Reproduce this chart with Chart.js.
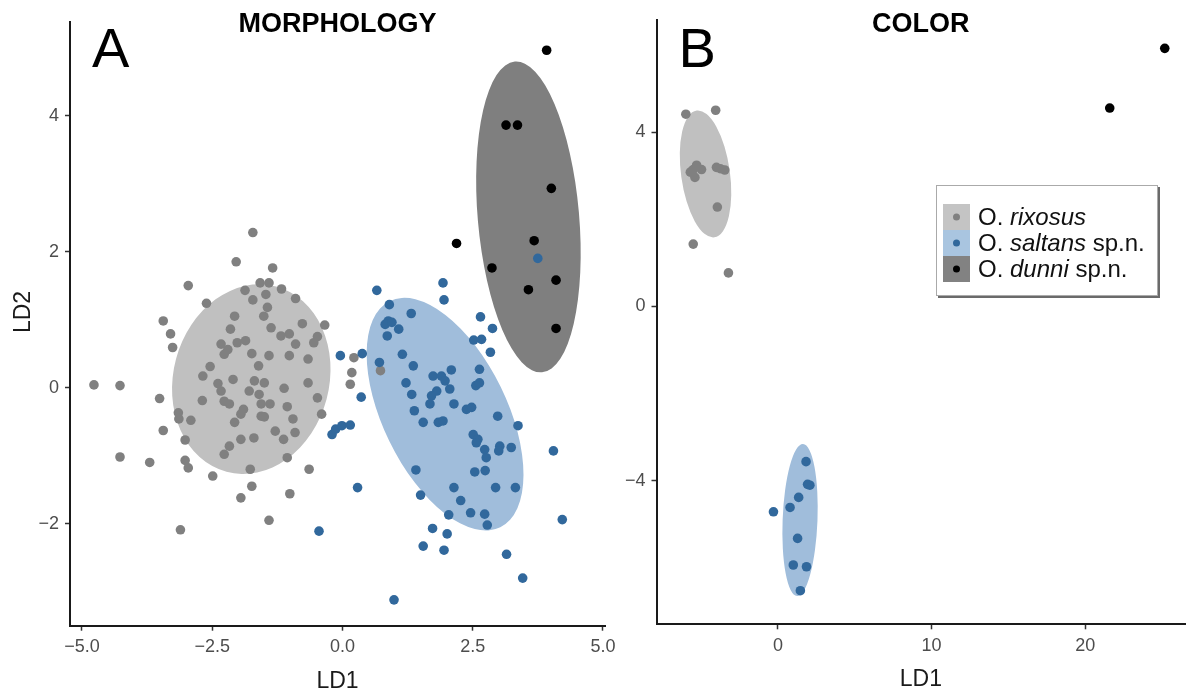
<!DOCTYPE html>
<html>
<head>
<meta charset="utf-8">
<script src="https://cdn.jsdelivr.net/npm/chart.js@4.4.0/dist/chart.umd.min.js"></script>
<style>
  html, body { margin: 0; padding: 0; background: #fff; }
  #wrap { position: relative; width: 1190px; height: 698px; overflow: hidden; }
  canvas { position: absolute; top: 0; }
  #morph { left: 0; }
  #color { left: 600px; }
</style>
</head>
<body>
<div id="wrap">
  <canvas id="morph" width="640" height="698"></canvas>
  <canvas id="color" width="590" height="698"></canvas>
</div>
<script>
// LD scores, [LD1, LD2]
const morphRixosus = [
  [-1.72,2.28],[-2.04,1.85],[-1.34,1.76],[-2.96,1.50],[-2.61,1.24],[-1.58,1.54],[-1.41,1.54],
  [-1.87,1.43],[-1.17,1.45],[-0.90,1.31],[-1.72,1.29],[-1.47,1.37],[-1.44,1.18],[-1.51,1.05],
  [-2.07,1.05],[-3.44,0.98],[-3.30,0.79],[-3.26,0.59],[-2.15,0.86],[-0.77,0.94],[-0.34,0.92],
  [-1.37,0.88],[-1.18,0.76],[-1.02,0.79],[-0.48,0.75],[-0.55,0.66],[-0.90,0.64],[-2.33,0.64],
  [-2.20,0.56],[-2.02,0.66],[-1.86,0.69],[-2.27,0.49],[-1.74,0.50],[-1.41,0.47],[-1.02,0.47],
  [-0.66,0.42],[-1.61,0.32],[-2.54,0.31],[-2.68,0.17],[-2.39,0.06],[-2.10,0.12],[-2.33,-0.05],
  [-1.69,0.10],[-1.50,0.07],[-1.79,-0.05],[-1.60,-0.10],[-1.12,-0.01],[-0.66,0.07],[-4.77,0.04],
  [-4.27,0.03],[-3.51,-0.16],[-2.69,-0.19],[-2.27,-0.20],[-2.17,-0.24],[-1.56,-0.24],[-1.39,-0.24],
  [-1.06,-0.28],[-0.48,-0.15],[-0.40,-0.39],[-1.90,-0.32],[-1.95,-0.39],[-2.07,-0.51],[-1.56,-0.42],
  [-1.50,-0.43],[-3.15,-0.37],[-3.14,-0.46],[-2.91,-0.48],[-0.95,-0.46],[-3.44,-0.63],[-1.29,-0.64],
  [-0.91,-0.66],[-1.13,-0.76],[-1.95,-0.76],[-1.70,-0.74],[-3.02,-0.77],[-2.17,-0.86],[-2.27,-0.98],
  [-1.06,-1.03],[-4.27,-1.02],[-3.70,-1.10],[-3.02,-1.07],[-2.96,-1.18],[-2.49,-1.30],[-1.77,-1.20],
  [-0.64,-1.20],[-1.74,-1.45],[-1.95,-1.62],[-1.01,-1.56],[-1.41,-1.95],[-3.11,-2.09],[0.22,0.44],
  [0.18,0.22],[0.15,0.05],[0.73,0.25]
];
const morphSaltans = [
  [0.66,1.43],[1.93,1.54],[1.95,1.29],[0.90,1.22],[1.32,1.09],[0.88,0.98],[0.82,0.93],[0.95,0.96],
  [1.08,0.86],[0.86,0.76],[2.65,1.04],[2.88,0.87],[2.52,0.70],[2.67,0.71],[2.84,0.52],[-0.04,0.47],
  [0.38,0.50],[0.71,0.37],[1.15,0.49],[1.36,0.32],[0.36,-0.14],[1.22,0.07],[1.33,-0.10],[1.74,0.17],
  [1.90,0.17],[1.97,0.10],[2.09,0.26],[1.81,-0.05],[1.71,-0.12],[1.68,-0.24],[2.06,-0.02],[2.14,-0.24],
  [2.38,-0.32],[2.48,-0.29],[2.63,0.27],[2.56,0.03],[2.63,0.07],[1.38,-0.34],[1.55,-0.51],[1.84,-0.51],
  [1.93,-0.49],[2.98,-0.42],[3.37,-0.56],[-0.20,-0.69],[-0.13,-0.61],[-0.01,-0.56],[0.15,-0.55],
  [2.51,-0.69],[2.60,-0.76],[2.57,-0.81],[2.73,-0.91],[2.76,-1.03],[3.02,-0.86],[3.24,-0.88],
  [3.00,-0.93],[4.05,-0.93],[2.54,-1.24],[2.74,-1.22],[1.41,-1.21],[0.29,-1.47],[1.50,-1.58],
  [2.14,-1.47],[2.94,-1.47],[3.32,-1.47],[2.27,-1.66],[2.04,-1.87],[2.46,-1.84],[2.73,-1.86],
  [2.78,-2.02],[4.22,-1.94],[-0.45,-2.11],[1.73,-2.07],[2.01,-2.15],[1.55,-2.33],[1.95,-2.39],
  [3.15,-2.45],[3.46,-2.80],[0.99,-3.12],[3.75,1.90]
];
const morphDunni = [
  [3.92,4.96],[3.14,3.86],[3.36,3.86],[4.01,2.93],[3.68,2.16],[2.19,2.12],[2.87,1.76],
  [4.10,1.58],[3.57,1.44],[4.10,0.87]
];

const colorRixosus = [
  [-5.99,4.41],[-4.05,4.50],[-5.51,3.14],[-5.29,3.24],[-4.97,3.14],[-5.40,2.96],[-5.70,3.08],
  [-4.00,3.19],[-3.46,3.13],[-3.75,3.16],[-3.94,2.28],[-5.51,1.43],[-3.22,0.77]
];
const colorSaltans = [
  [1.83,-3.56],[2.08,-4.10],[1.93,-4.08],[1.35,-4.38],[0.79,-4.61],[-0.29,-4.71],[1.28,-5.32],
  [1.00,-5.93],[1.86,-5.97],[1.46,-6.52]
];
const colorDunni = [[25.17,5.92],[21.59,4.55]];

// group ellipses: centre, then two half-axis vectors (LD units)
const morphEllipses = [
  [-1.75, 0.125, 0.476, 1.362, 1.445, -0.297],
  [1.97, -0.39, 1.06, -1.663, 1.069, 0.40],
  [3.57, 2.51, 0.261, -2.284, 0.969, 0.065]
];
const colorEllipses = [
  [-4.71, 3.04, 0.576, -1.454, 1.573, 0.078],
  [1.44, -4.90, -0.194, -1.743, 1.133, -0.016],
  null
];

const morphXTicks = [-5, -2.5, 0, 2.5, 5];
const morphYTicks = [-2, 0, 2, 4];
const colorXTicks = [0, 10, 20];
const colorYTicks = [-4, 0, 4];

const speciesLabels = [['O. ', 'rixosus', ''], ['O. ', 'saltans', ' sp.n.'], ['O. ', 'dunni', ' sp.n.']];
const pointColors = ['#808080', '#31689c', '#000000'];
const ellipseColors = ['#c0c0c0', '#a0bddb', '#7f7f7f'];
const legendKeyColors = ['#c4c4c4', '#a9c5e0', '#828282'];

const FONT = '"Liberation Sans", Arial, sans-serif';

function fmt(v, digits) {
  return (v < 0 ? '\u2212' : '') + Math.abs(v).toFixed(digits);
}

function ellipsePlugin(list) {
  return {
    id: 'ellipses',
    beforeDatasetsDraw(chart) {
      const { ctx, scales: { x, y } } = chart;
      list.forEach((e, i) => {
        if (!e) return;
        const [cx, cy, ux, uy, vx, vy] = e;
        const px = x.getPixelForValue(cx), py = y.getPixelForValue(cy);
        const ax = x.getPixelForValue(cx + ux) - px, ay = y.getPixelForValue(cy + uy) - py;
        const bx = x.getPixelForValue(cx + vx) - px, by = y.getPixelForValue(cy + vy) - py;
        ctx.save();
        ctx.beginPath();
        ctx.transform(ax, ay, bx, by, px, py);
        ctx.arc(0, 0, 1, 0, Math.PI * 2);
        ctx.restore();
        ctx.save();
        ctx.fillStyle = ellipseColors[i];
        ctx.fill();
        ctx.restore();
      });
    }
  };
}

function panelText(letter, title, yTitle) {
  return {
    id: 'panelText',
    afterDraw(chart) {
      const { ctx, chartArea: a } = chart;
      ctx.save();
      ctx.fillStyle = '#000';
      ctx.textBaseline = 'alphabetic';
      ctx.textAlign = 'left';
      ctx.font = '56px ' + FONT;
      ctx.fillText(letter, a.left + 22, 67);
      ctx.textAlign = 'center';
      ctx.font = 'bold 27px ' + FONT;
      ctx.fillText(title, (a.left + a.right) / 2, 32);
      if (yTitle) {
        ctx.translate(24, 312);
        ctx.rotate(-Math.PI / 2);
        ctx.textBaseline = 'middle';
        ctx.fillStyle = '#1a1a1a';
        ctx.font = '23px ' + FONT;
        ctx.fillText(yTitle, 0, 0);
      }
      ctx.restore();
    }
  };
}

const legendPlugin = {
  id: 'speciesLegend',
  afterDraw(chart) {
    const ctx = chart.ctx;
    const bx = 336, by = 185, bw = 222, bh = 111;
    ctx.save();
    ctx.fillStyle = '#6a6a6a';
    ctx.fillRect(bx + 2, by + 2, bw, bh);
    ctx.fillStyle = '#fff';
    ctx.fillRect(bx, by, bw, bh);
    ctx.strokeStyle = '#aaaaaa';
    ctx.lineWidth = 1;
    ctx.strokeRect(bx + 0.5, by + 0.5, bw - 1, bh - 1);
    speciesLabels.forEach((parts, i) => {
      const ky = 204 + i * 26;
      ctx.fillStyle = legendKeyColors[i];
      ctx.fillRect(343, ky, 27, 26);
      ctx.fillStyle = pointColors[i];
      ctx.beginPath();
      ctx.arc(356.5, ky + 13, 3.5, 0, Math.PI * 2);
      ctx.fill();
      let tx = 378;
      ctx.fillStyle = '#111';
      ctx.textBaseline = 'middle';
      ctx.textAlign = 'left';
      parts.forEach((txt, j) => {
        ctx.font = (j === 1 ? 'italic ' : '') + '24px ' + FONT;
        ctx.fillText(txt, tx, ky + 14);
        tx += ctx.measureText(txt).width;
      });
    });
    ctx.restore();
  }
};

function axis(min, max, tickValues, digits, fit, isX, title) {
  return {
    type: 'linear',
    min: min,
    max: max,
    afterBuildTicks: s => { s.ticks = tickValues.map(v => ({ value: v })); },
    afterFit: s => { if (isX) s.height = fit; else s.width = fit; },
    ticks: { color: '#4d4d4d', font: { family: FONT, size: 18 }, padding: 6, callback: v => fmt(v, digits) },
    grid: { display: true, drawOnChartArea: false, drawTicks: true, tickLength: 5, tickWidth: 1.5, tickColor: '#333' },
    border: { display: true, color: '#1a1a1a', width: 2 },
    title: title || { display: false }
  };
}

function toPoints(arr) {
  return arr.map(p => ({ x: p[0], y: p[1] }));
}

function datasets(groups) {
  return groups.map((g, i) => ({
    label: speciesLabels[i].join(''),
    data: toPoints(g),
    backgroundColor: pointColors[i],
    borderWidth: 0,
    pointRadius: 4.8,
    order: 3 - i
  }));
}

new Chart(document.getElementById('morph'), {
  type: 'scatter',
  data: { datasets: datasets([morphRixosus, morphSaltans, morphDunni]) },
  options: {
    responsive: false,
    animation: false,
    devicePixelRatio: 1,
    events: [],
    layout: { padding: { left: 0, top: 21.7, right: 35, bottom: 0 } },
    plugins: { legend: { display: false }, tooltip: { enabled: false } },
    scales: {
      x: axis(-5.23, 5.04, morphXTicks, 1, 72.3, true,
        { display: true, text: 'LD1', color: '#1a1a1a', font: { family: FONT, size: 23 }, padding: { top: 0, bottom: 2.5 } }),
      y: axis(-3.50, 5.38, morphYTicks, 0, 70, false)
    }
  },
  plugins: [ellipsePlugin(morphEllipses), panelText('A', 'MORPHOLOGY', 'LD2')]
});

new Chart(document.getElementById('color'), {
  type: 'scatter',
  data: { datasets: datasets([colorRixosus, colorSaltans, colorDunni]) },
  options: {
    responsive: false,
    animation: false,
    devicePixelRatio: 1,
    events: [],
    layout: { padding: { left: 0, top: 20, right: 2, bottom: 0 } },
    plugins: { legend: { display: false }, tooltip: { enabled: false } },
    scales: {
      x: axis(-7.9, 26.5, colorXTicks, 0, 73.7, true,
        { display: true, text: 'LD1', color: '#1a1a1a', font: { family: FONT, size: 23 }, padding: { top: 0, bottom: 4.2 } }),
      y: axis(-7.29, 6.57, colorYTicks, 0, 56.5, false)
    }
  },
  plugins: [ellipsePlugin(colorEllipses), panelText('B', 'COLOR'), legendPlugin]
});
</script>
</body>
</html>
